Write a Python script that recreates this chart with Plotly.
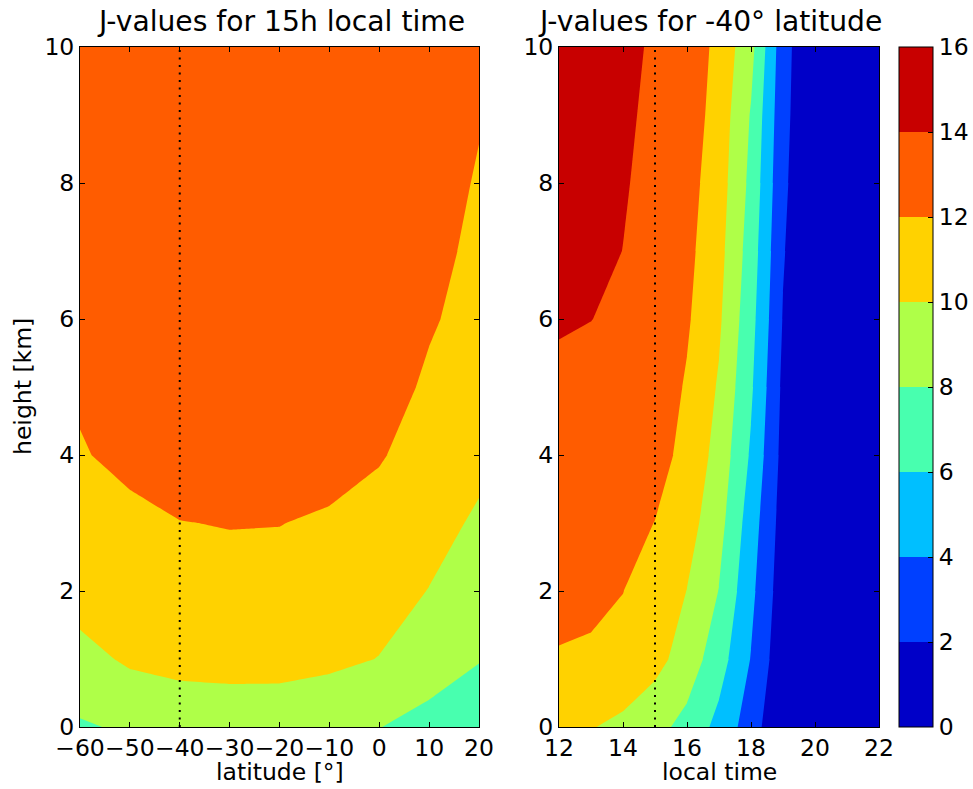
import numpy as np
import plotly.graph_objects as go

# Grid axes
latitudes = [-60, -50, -40, -30, -20, -10, 0, 10, 20]
local_times = [12, 13, 14, 15, 16, 17, 18, 19, 20, 21, 22]
heights = [0, 1, 2, 3, 4, 5, 6, 7, 8, 9, 10]

# J-values at 15h local time, one profile (0-10 km) per latitude
j_lat_m60 = [7.8, 9.35, 10.86, 11.4, 11.85, 12.25, 12.6, 12.9, 13.2, 13.4, 13.6]
j_lat_m50 = [8.25, 10.3, 11.0, 11.52, 12.5, 12.85, 13.1, 13.3, 13.45, 13.6, 13.7]
j_lat_m40 = [8.6, 10.66, 11.3, 11.97, 12.7, 13.1, 13.35, 13.55, 13.7, 13.8, 13.88]
j_lat_m30 = [8.8, 10.7, 11.55, 12.05, 12.9, 13.3, 13.5, 13.7, 13.8, 13.88, 13.93]
j_lat_m20 = [8.75, 10.7, 11.5, 12.03, 12.8, 13.2, 13.45, 13.65, 13.78, 13.86, 13.92]
j_lat_m10 = [8.4, 10.45, 11.2, 11.8, 12.6, 13.0, 13.3, 13.5, 13.65, 13.75, 13.85]
j_lat_0 = [8.05, 9.95, 10.78, 11.3, 12.15, 12.7, 13.0, 13.3, 13.5, 13.65, 13.75]
j_lat_p10 = [7.22, 9.17, 9.95, 10.7, 11.21, 11.75, 12.17, 12.5, 12.8, 13.0, 13.2]
j_lat_p20 = [6.9, 8.08, 8.9, 9.71, 10.5, 10.95, 11.43, 11.62, 11.84, 12.12, 12.35]

# J-values at -40 degrees latitude, one profile per local time
j_t12 = [11.2, 11.9, 12.4, 12.9, 13.3, 13.7, 14.13, 14.4, 14.6, 14.8, 15.0]
j_t13 = [10.1, 11.7, 12.47, 12.85, 13.15, 13.5, 14.02, 14.3, 14.5, 14.65, 14.8]
j_t14 = [9.54, 11.54, 12.02, 12.6, 13.0, 13.35, 13.7, 13.99, 14.085, 14.157, 14.23]
j_t15 = [8.6, 10.66, 11.3, 11.97, 12.7, 13.1, 13.35, 13.55, 13.7, 13.8, 13.88]
j_t16 = [7.4, 9.1, 9.97, 10.8, 11.47, 11.81, 12.23, 12.5, 12.73, 13.05, 13.4]
j_t17 = [5.4, 6.9, 7.95, 8.7, 9.3, 9.8, 10.3, 10.65, 10.95, 11.2, 11.4]
j_t18 = [3.0, 3.92, 4.5, 5.0, 5.75, 6.3, 6.7, 7.1, 7.5, 7.85, 8.64]
j_t19 = [0.0, 0.61, 0.9, 1.15, 1.4, 1.6, 1.9, 2.15, 2.4, 2.6, 2.77]
j_t20 = [0.0] * 11
j_t21 = [0.0] * 11
j_t22 = [0.0] * 11

# Contour levels and colorbar ticks
levels_start, levels_end, levels_step = 0, 16, 2
cbar_ticks = [0, 2, 4, 6, 8, 10, 12, 14, 16]

selected_lat = -40
selected_time = 15

# Banded jet colours, one per 2-unit interval
band_colors = [
    "rgb(0,0,200)", "rgb(0,64,255)", "rgb(0,191,255)", "rgb(72,255,175)",
    "rgb(175,255,72)", "rgb(255,210,0)", "rgb(255,92,0)", "rgb(200,0,0)",
]
n = len(band_colors)
colorscale = []
for k, c in enumerate(band_colors):
    colorscale.append([k / n, c])
    colorscale.append([(k + 1) / n - (1e-4 if k < n - 1 else 0), c])

z_left = np.array([j_lat_m60, j_lat_m50, j_lat_m40, j_lat_m30, j_lat_m20,
                   j_lat_m10, j_lat_0, j_lat_p10, j_lat_p20]).T
z_right = np.array([j_t12, j_t13, j_t14, j_t15, j_t16, j_t17, j_t18,
                    j_t19, j_t20, j_t21, j_t22]).T

FONT = "DejaVu Sans"
TICK_SIZE = 23.5
W, H = 973, 789
# plot area in pixels
L, R, T, B = 80, 879, 47, 727
PW, PH = R - L, B - T


def px_x(x):
    return (x - L) / PW


def px_y(y):
    return (B - y) / PH


contours = dict(start=levels_start, end=levels_end, size=levels_step,
                coloring="fill", showlines=False)

fig = go.Figure()
fig.add_trace(go.Contour(
    x=latitudes, y=heights, z=z_left, xaxis="x", yaxis="y",
    autocontour=False, contours=contours, colorscale=colorscale,
    zmin=levels_start, zmax=levels_end, line=dict(width=0, smoothing=0),
    showscale=False, hoverinfo="skip"))
fig.add_trace(go.Contour(
    x=local_times, y=heights, z=z_right, xaxis="x2", yaxis="y2",
    autocontour=False, contours=contours, colorscale=colorscale,
    zmin=levels_start, zmax=levels_end, line=dict(width=0, smoothing=0),
    showscale=True, hoverinfo="skip",
    colorbar=dict(
        x=px_x(899), xanchor="left", xpad=0, ypad=0,
        y=0, yanchor="bottom", len=1, lenmode="fraction",
        thickness=34, thicknessmode="pixels",
        outlinewidth=1, outlinecolor="black",
        tickmode="array", tickvals=cbar_ticks,
        ticks="inside", ticklen=5, tickcolor="black",
        tickfont=dict(family=FONT, size=TICK_SIZE, color="black"))))

dot_line = dict(color="black", width=2, dash="2px,5.5px")
fig.add_trace(go.Scatter(x=[selected_lat, selected_lat], y=[heights[0], heights[-1]],
                         mode="lines", line=dot_line, xaxis="x", yaxis="y",
                         showlegend=False, hoverinfo="skip"))
fig.add_trace(go.Scatter(x=[selected_time, selected_time], y=[heights[0], heights[-1]],
                         mode="lines", line=dot_line, xaxis="x2", yaxis="y2",
                         showlegend=False, hoverinfo="skip"))

axis_common = dict(
    showline=True, linecolor="black", linewidth=1, mirror="ticks",
    ticks="inside", ticklen=5, tickwidth=1, tickcolor="black",
    showgrid=False, zeroline=False, automargin=False, tickangle=0,
    tickfont=dict(family=FONT, size=TICK_SIZE, color="black"),
)

fig.update_layout(
    width=W, height=H, margin=dict(l=L, r=W - R, t=T, b=H - B, autoexpand=False),
    paper_bgcolor="white", plot_bgcolor="white", showlegend=False,
    font=dict(family=FONT, color="black"),
    xaxis=dict(domain=[0, px_x(479)], range=[latitudes[0], latitudes[-1]],
               tickmode="linear", tick0=-60, dtick=10, anchor="y", **axis_common),
    yaxis=dict(domain=[0, 1], range=[heights[0], heights[-1]],
               tickmode="linear", tick0=0, dtick=2, anchor="x", **axis_common),
    xaxis2=dict(domain=[px_x(559), 1], range=[local_times[0], local_times[-1]],
                tickmode="linear", tick0=12, dtick=2, anchor="y2", **axis_common),
    yaxis2=dict(domain=[0, 1], range=[heights[0], heights[-1]],
                tickmode="linear", tick0=0, dtick=2, anchor="x2", **axis_common),
)


def label(text, x, y, size, angle=0):
    fig.add_annotation(text=text, x=px_x(x), y=px_y(y), xref="paper", yref="paper",
                       xanchor="center", yanchor="middle", showarrow=False,
                       textangle=angle, font=dict(family=FONT, size=size, color="black"))


label("J-values for 15h local time", 281, 22, 28.2)
label("J-values for -40° latitude", 710, 22, 28.2)
label("latitude [°]", 279.5, 772, TICK_SIZE)
label("local time", 719, 772, TICK_SIZE)
label("height [km]", 23, 387, TICK_SIZE, angle=-90)

fig.write_html("out.html")
